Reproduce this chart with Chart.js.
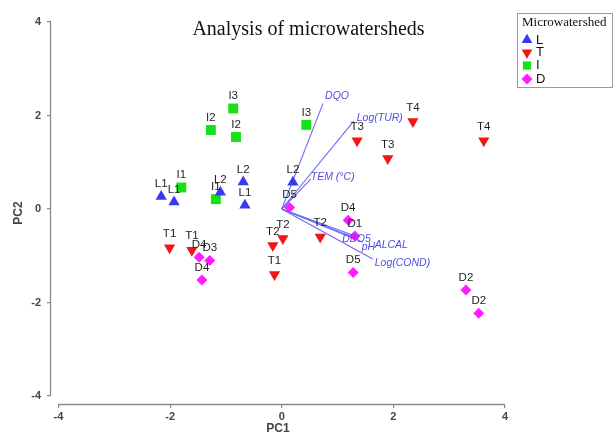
<!DOCTYPE html>
<html><head><meta charset="utf-8">
<script src="https://cdn.jsdelivr.net/npm/chart.js@4/dist/chart.umd.min.js"></script>
<style>html,body{margin:0;padding:0;background:#fff}#wrap{width:614px;height:435px;position:relative}</style>
</head><body><div id="wrap"><canvas id="c"></canvas></div>
<script>
// ---- data ----
const groupNames = ['L', 'T', 'I', 'D'];
const L_labels = ['L1', 'L1', 'L2', 'L2', 'L1', 'L2'];
const L_pc1 = [-2.16, -1.93, -1.10, -0.69, -0.66, 0.20];
const L_pc2 = [0.27, 0.15, 0.36, 0.58, 0.08, 0.57];
const T_labels = ['T1', 'T1', 'T2', 'T2', 'T1', 'T2', 'T3', 'T3', 'T4', 'T4'];
const T_pc1 = [-2.01, -1.61, -0.16, 0.02, -0.13, 0.69, 1.35, 1.90, 2.35, 3.62];
const T_pc2 = [-0.83, -0.88, -0.78, -0.63, -1.40, -0.60, 1.46, 1.08, 1.87, 1.46];
const I_labels = ['I3', 'I2', 'I2', 'I3', 'I1', 'I1'];
const I_pc1 = [-0.87, -1.27, -0.82, 0.44, -1.80, -1.18];
const I_pc2 = [2.15, 1.69, 1.54, 1.80, 0.46, 0.21];
const D_labels = ['D5', 'D4', 'D3', 'D4', 'D4', 'D1', 'D5', 'D2', 'D2'];
const D_pc1 = [0.14, -1.48, -1.29, -1.43, 1.19, 1.31, 1.28, 3.30, 3.53];
const D_pc2 = [0.03, -1.03, -1.10, -1.52, -0.24, -0.58, -1.36, -1.73, -2.23];
const varNames = ['DQO', 'Log(TUR)', 'TEM (°C)', 'DBO5', 'pH', 'ALCAL', 'Log(COND)'];
const var_pc1 = [0.74, 1.29, 0.52, 1.28, 1.36, 1.45, 1.63];
const var_pc2 = [2.26, 1.88, 0.64, -0.56, -0.64, -0.71, -1.07];
const axisTicks = [-4, -2, 0, 2, 4];
const chartTitle = 'Analysis of microwatersheds';
const legendTitle = 'Microwatershed';

// ---- styles ----
const groupStyle = {
  L: {color: '#3838f2', pointStyle: 'triangle', radius: 6.5, rotation: 0},
  T: {color: '#f01616', pointStyle: 'triangle', radius: 6.5, rotation: 180},
  I: {color: '#17e017', pointStyle: 'rect', radius: 7, rotation: 0},
  D: {color: '#ff1cff', pointStyle: 'rectRot', radius: 5.5, rotation: 0}
};
const vecLabelOffset = {
  'DQO': [2, -7], 'Log(TUR)': [3, -3], 'TEM (°C)': [0, -2],
  'DBO5': [-11, 4], 'pH': [4, 8], 'ALCAL': [12, 3], 'Log(COND)': [2, 4]
};
const AXIS_COLOR = '#8a8a8a';
const SANS = '"Liberation Sans", Arial, sans-serif';
const SERIF = '"Liberation Serif", "Times New Roman", serif';

const groups = {
  L: {labels: L_labels, x: L_pc1, y: L_pc2},
  T: {labels: T_labels, x: T_pc1, y: T_pc2},
  I: {labels: I_labels, x: I_pc1, y: I_pc2},
  D: {labels: D_labels, x: D_pc1, y: D_pc2}
};

const datasets = [];
varNames.forEach((n, i) => {
  datasets.push({
    type: 'line', label: n,
    data: [{x: 0, y: 0}, {x: var_pc1[i], y: var_pc2[i]}],
    borderColor: '#6a6af0', borderWidth: 1.1, pointRadius: 0, fill: false,
    order: 10, clip: false
  });
});
groupNames.forEach(g => {
  const s = groupStyle[g], d = groups[g];
  datasets.push({
    type: 'scatter', label: g,
    data: d.x.map((x, i) => ({x: x, y: d.y[i]})),
    pointStyle: s.pointStyle, pointRadius: s.radius, pointRotation: s.rotation,
    pointBackgroundColor: s.color, backgroundColor: s.color,
    pointBorderWidth: 0, borderWidth: 0, order: 1, clip: false
  });
});

function drawMarker(ctx, style, radius, x, y) {
  ctx.save();
  ctx.fillStyle = style.color;
  ctx.strokeStyle = style.color;
  Chart.helpers.drawPoint(ctx, {pointStyle: style.pointStyle, rotation: style.rotation, radius: radius, borderWidth: 0}, x, y);
  ctx.restore();
}

const decor = {
  id: 'decor',
  afterDatasetsDraw(chart) {
    const ctx = chart.ctx;
    const xs = chart.scales.x, ys = chart.scales.y;
    // axis lines
    ctx.save();
    ctx.strokeStyle = AXIS_COLOR;
    ctx.lineWidth = 1.3;
    ctx.beginPath();
    const bx = chart.chartArea.bottom + 0.5;
    ctx.moveTo(xs.getPixelForValue(axisTicks[0]), bx);
    ctx.lineTo(xs.getPixelForValue(axisTicks[axisTicks.length - 1]), bx);
    const lx = chart.chartArea.left - 0.5;
    ctx.moveTo(lx, ys.getPixelForValue(axisTicks[0]));
    ctx.lineTo(lx, ys.getPixelForValue(axisTicks[axisTicks.length - 1]));
    ctx.stroke();
    ctx.restore();

    // point labels
    ctx.save();
    ctx.font = '11.5px ' + SANS;
    ctx.fillStyle = '#1e1e1e';
    ctx.textAlign = 'center';
    ctx.textBaseline = 'middle';
    chart.data.datasets.forEach((ds, di) => {
      if (ds.type !== 'scatter') return;
      const g = groups[ds.label];
      const meta = chart.getDatasetMeta(di);
      meta.data.forEach((el, i) => {
        const dy = ds.label === 'T' ? -14 : -12.5;
        ctx.fillText(g.labels[i], el.x, el.y + dy);
      });
    });
    // vector labels
    ctx.font = 'italic 10.5px ' + SANS;
    ctx.fillStyle = '#4e4ee6';
    ctx.textAlign = 'left';
    chart.data.datasets.forEach((ds, di) => {
      if (ds.type !== 'line') return;
      const meta = chart.getDatasetMeta(di);
      const el = meta.data[1];
      const off = vecLabelOffset[ds.label] || [2, -3];
      ctx.fillText(ds.label, el.x + off[0], el.y + off[1]);
    });
    ctx.restore();

    // title
    ctx.save();
    ctx.font = '20px ' + SERIF;
    ctx.fillStyle = '#111';
    ctx.textAlign = 'center';
    ctx.textBaseline = 'middle';
    ctx.fillText(chartTitle, 308.5, 30);
    ctx.restore();

    // legend
    ctx.save();
    ctx.strokeStyle = '#9a9a9a';
    ctx.lineWidth = 1;
    ctx.strokeRect(517.5, 13.5, 95, 74);
    ctx.font = '13px ' + SERIF;
    ctx.fillStyle = '#111';
    ctx.textBaseline = 'middle';
    ctx.textAlign = 'left';
    ctx.fillText(legendTitle, 522, 23);
    const ly = [40, 52.5, 65.5, 79];
    const lr = {L: 6.2, T: 6.2, I: 5.8, D: 5.5};
    ctx.font = '13px ' + SANS;
    groupNames.forEach((g, i) => {
      drawMarker(ctx, groupStyle[g], lr[g], 527, ly[i]);
      ctx.fillStyle = '#111';
      ctx.fillText(g, 536, ly[i]);
    });
    ctx.restore();
  }
};

const tickFont = {family: SANS, size: 11, weight: 'bold'};
new Chart(document.getElementById('c'), {
  type: 'scatter',
  data: {datasets: datasets},
  options: {
    responsive: true, maintainAspectRatio: false, animation: false, events: [],
    layout: {padding: {left: 0, top: 22, right: 109, bottom: 0}},
    plugins: {legend: {display: false}, tooltip: {enabled: false}, title: {display: false}},
    scales: {
      x: {
        type: 'linear', position: 'bottom', min: -4.1345, max: 4,
        afterBuildTicks: s => { s.ticks = axisTicks.map(v => ({value: v})); },
        afterFit: s => { s.height = 31; },
        ticks: {font: tickFont, color: '#444', padding: 2, maxRotation: 0, autoSkip: false},
        grid: {display: true, drawOnChartArea: false, drawTicks: true, tickLength: 4, color: AXIS_COLOR, lineWidth: 1.2},
        border: {display: false},
        title: {display: true, text: 'PC1', font: {family: SANS, size: 12, weight: 'bold'}, color: '#444', padding: {top: 0, bottom: -1}}
      },
      y: {
        type: 'linear', position: 'left', min: -4.171, max: 4,
        afterBuildTicks: s => { s.ticks = axisTicks.map(v => ({value: v})); },
        afterFit: s => { s.width = 51; },
        ticks: {font: tickFont, color: '#444', padding: 6, autoSkip: false},
        grid: {display: true, drawOnChartArea: false, drawTicks: true, tickLength: 4, color: AXIS_COLOR, lineWidth: 1.2},
        border: {display: false},
        title: {display: true, text: 'PC2', font: {family: SANS, size: 12, weight: 'bold'}, color: '#444', padding: {top: 11, bottom: 0}}
      }
    }
  },
  plugins: [decor]
});
</script>
</body></html>
